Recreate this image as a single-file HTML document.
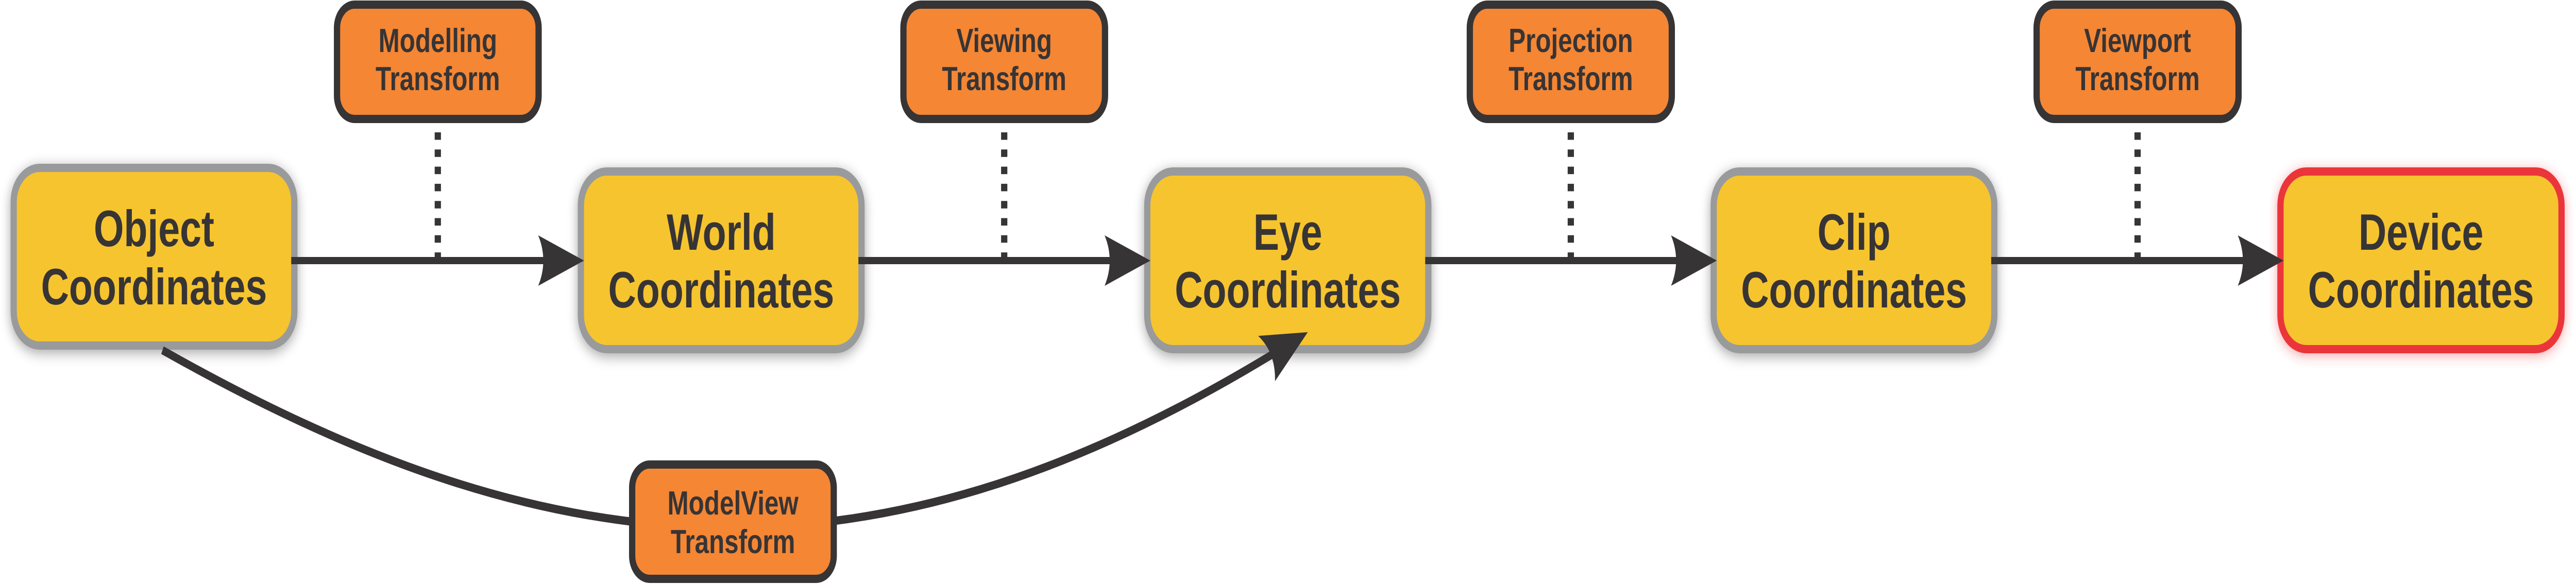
<!DOCTYPE html>
<html>
<head>
<meta charset="utf-8">
<style>
  html, body { margin: 0; padding: 0; background: #ffffff; width: 100%; height: 100%; overflow: hidden; }
  svg { display: block; width: 100vw; height: 100vh; }
  text { font-family: "Liberation Sans", Arial, sans-serif; font-weight: bold; fill: #373435; }
  .big { font-size: 99px; }
  .small { font-size: 65px; }
</style>
</head>
<body>
<svg viewBox="0 0 6581 1134" preserveAspectRatio="none" xmlns="http://www.w3.org/2000/svg">
  <defs>
    <filter id="sh" x="-6%" y="-15%" width="112%" height="130%">
      <feDropShadow dx="0" dy="6" stdDeviation="13" flood-color="#000000" flood-opacity="0.35"/>
    </filter>
    <filter id="shr" x="-4%" y="-15%" width="108%" height="130%">
      <feDropShadow dx="0" dy="4" stdDeviation="12" flood-color="#ea343a" flood-opacity="0.45"/>
    </filter>
  </defs>

  <!-- Yellow coordinate nodes -->
  <g stroke-width="16">
    <rect x="35" y="326" width="717" height="345" rx="66" ry="66" fill="#f6c42e" stroke="#999a9c" filter="url(#sh)"/>
    <rect x="1484" y="333" width="717" height="345" rx="66" ry="66" fill="#f6c42e" stroke="#999a9c" filter="url(#sh)"/>
    <rect x="2931" y="333" width="718" height="345" rx="66" ry="66" fill="#f6c42e" stroke="#999a9c" filter="url(#sh)"/>
    <rect x="4378" y="333" width="717" height="345" rx="66" ry="66" fill="#f6c42e" stroke="#999a9c" filter="url(#sh)"/>
    <rect x="5826" y="333" width="718" height="345" rx="66" ry="66" fill="#f6c42e" stroke="#ea343a" filter="url(#shr)"/>
  </g>

  <!-- Node labels -->
  <text class="big" x="393.5" y="478" text-anchor="middle">Object</text>
  <text class="big" x="393.5" y="591" text-anchor="middle">Coordinates</text>

  <text class="big" x="1842.5" y="485" text-anchor="middle">World</text>
  <text class="big" x="1842.5" y="597" text-anchor="middle">Coordinates</text>

  <text class="big" x="3290" y="485" text-anchor="middle">Eye</text>
  <text class="big" x="3290" y="597" text-anchor="middle">Coordinates</text>

  <text class="big" x="4736.5" y="485" text-anchor="middle">Clip</text>
  <text class="big" x="4736.5" y="597" text-anchor="middle">Coordinates</text>

  <text class="big" x="6185" y="485" text-anchor="middle">Device</text>
  <text class="big" x="6185" y="597" text-anchor="middle">Coordinates</text>

  <!-- Dotted connectors from transform boxes -->
  <g stroke="#373435" stroke-width="16" stroke-dasharray="14.5 18.8" fill="none">
    <line x1="1118.5" y1="257" x2="1118.5" y2="500"/>
    <line x1="2565.5" y1="257" x2="2565.5" y2="500"/>
    <line x1="4013" y1="257" x2="4013" y2="500"/>
    <line x1="5461" y1="257" x2="5461" y2="500"/>
  </g>

  <!-- Horizontal arrows -->
  <g stroke="#373435" stroke-width="14" fill="none">
    <line x1="744" y1="506" x2="1394" y2="506"/>
    <line x1="2193" y1="506" x2="2841" y2="506"/>
    <line x1="3641" y1="506" x2="4288" y2="506"/>
    <line x1="5087" y1="506" x2="5736" y2="506"/>
  </g>
  <g fill="#373435">
    <path d="M1492 506 L1375 457 Q1401 506 1375 555 Z"/>
    <path d="M2939 506 L2822 457 Q2848 506 2822 555 Z"/>
    <path d="M4386 506 L4269 457 Q4295 506 4269 555 Z"/>
    <path d="M5834 506 L5717 457 Q5743 506 5717 555 Z"/>
  </g>

  <!-- Curved ModelView connector -->
  <path d="M415 680 C1388 1098.4 2196.3 1176 3252.5 687.1" stroke="#373435" stroke-width="16" fill="none"/>
  <path d="M3341 645 L3257.3 740.2 Q3259.2 684.8 3214.3 652.2 Z" fill="#373435"/>

  <!-- Orange transform boxes -->
  <g stroke="#373435" stroke-width="16" fill="#f48634">
    <rect x="861" y="9" width="515" height="222" rx="45" ry="45"/>
    <rect x="2308" y="9" width="515" height="222" rx="45" ry="45"/>
    <rect x="3755" y="9" width="516" height="222" rx="45" ry="45"/>
    <rect x="5203" y="9" width="516" height="222" rx="45" ry="45"/>
    <rect x="1615" y="902" width="515" height="222" rx="45" ry="45"/>
  </g>

  <text class="small" x="1118.5" y="101" text-anchor="middle">Modelling</text>
  <text class="small" x="1118.5" y="175" text-anchor="middle">Transform</text>

  <text class="small" x="2565.5" y="101" text-anchor="middle">Viewing</text>
  <text class="small" x="2565.5" y="175" text-anchor="middle">Transform</text>

  <text class="small" x="4013" y="101" text-anchor="middle">Projection</text>
  <text class="small" x="4013" y="175" text-anchor="middle">Transform</text>

  <text class="small" x="5461" y="101" text-anchor="middle">Viewport</text>
  <text class="small" x="5461" y="175" text-anchor="middle">Transform</text>

  <text class="small" x="1872.5" y="999" text-anchor="middle">ModelView</text>
  <text class="small" x="1872.5" y="1074" text-anchor="middle">Transform</text>
</svg>
</body>
</html>
